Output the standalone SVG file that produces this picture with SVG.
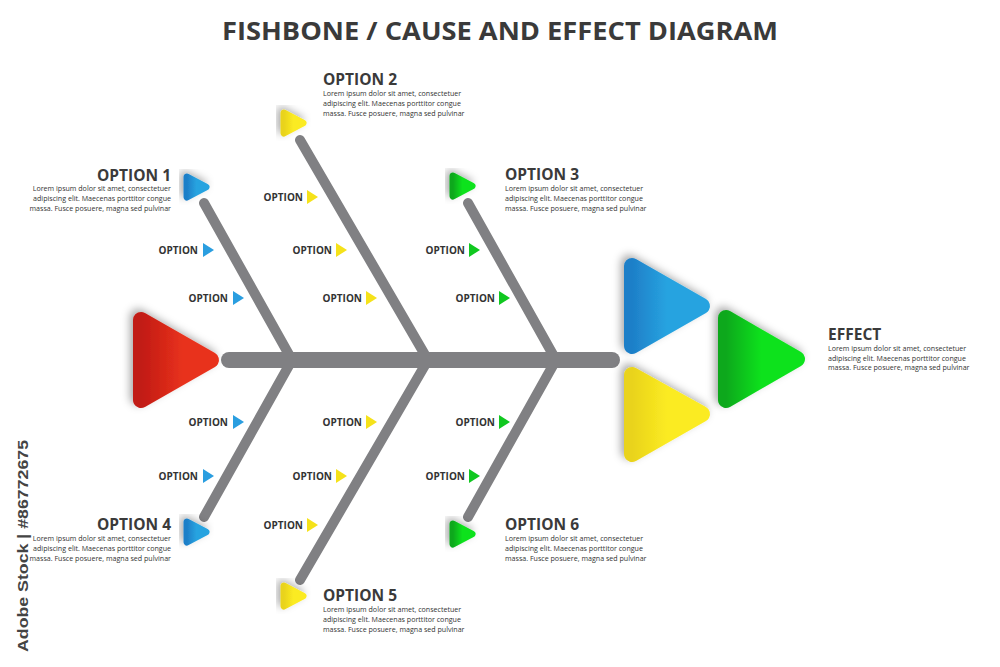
<svg xmlns="http://www.w3.org/2000/svg" width="1000" height="667" viewBox="0 0 1000 667">
<style>
.t{font-family:"Open Sans","Liberation Sans",sans-serif;font-weight:bold;fill:#3a3a3a}
.h{font-size:15.5px}
.l{font-family:"Open Sans","Liberation Sans",sans-serif;font-size:7.1px;fill:#333}
.o{font-family:"Open Sans","Liberation Sans",sans-serif;font-weight:bold;font-size:10px;fill:#333}
.r{text-anchor:end}
.bone{stroke:#808083;stroke-linecap:round;fill:none}
.tri{stroke-linejoin:round;filter:url(#sh)}
.blue{fill:url(#gb);stroke:url(#gb)}
.yel{fill:url(#gy);stroke:url(#gy)}
.grn{fill:url(#gg);stroke:url(#gg)}
.red{fill:url(#gr);stroke:url(#gr)}
.mb{fill:#2a9ee0}.my{fill:#f5e21a}.mg{fill:#10c820}
</style>
<defs>
<filter id="sh" x="-40%" y="-40%" width="180%" height="180%"><feDropShadow dx="-3" dy="-3" stdDeviation="4" flood-color="#000" flood-opacity="0.35"/></filter>
<linearGradient id="gb" x1="0" x2="1"><stop offset="0" stop-color="#1e7fc8"/><stop offset="0.5" stop-color="#27a3e0"/></linearGradient>
<linearGradient id="gy" x1="0" x2="1"><stop offset="0" stop-color="#e9d31a"/><stop offset="0.5" stop-color="#fbeb22"/></linearGradient>
<linearGradient id="gg" x1="0" x2="1"><stop offset="0" stop-color="#0aa81a"/><stop offset="0.5" stop-color="#0be21c"/></linearGradient>
<linearGradient id="gr" x1="0" x2="1"><stop offset="0" stop-color="#c11a14"/><stop offset="0.6" stop-color="#e8321c"/></linearGradient>
</defs>
<rect width="1000" height="667" fill="#fff"/>
<text x="500" y="40" class="t" font-size="25" text-anchor="middle" textLength="556" lengthAdjust="spacingAndGlyphs">FISHBONE / CAUSE AND EFFECT DIAGRAM</text>
<g id="connectors">
<line class="bone" x1="229" y1="360" x2="612" y2="360" stroke-width="16"/>
<line class="bone" x1="204" y1="203" x2="292" y2="360" stroke-width="10"/>
<line class="bone" x1="300" y1="140" x2="428" y2="360" stroke-width="10"/>
<line class="bone" x1="468" y1="203" x2="556" y2="360" stroke-width="10"/>
<line class="bone" x1="292" y1="360" x2="204" y2="517" stroke-width="10"/>
<line class="bone" x1="428" y1="360" x2="300" y2="580" stroke-width="10"/>
<line class="bone" x1="556" y1="360" x2="468" y2="517" stroke-width="10"/>
</g>
<g id="tail"><polygon class="tri red" stroke-width="16" points="141,320 211,360 141,400"/></g>
<g id="head">
<polygon class="tri blue" stroke-width="16" points="632,266 702,306 632,346"/>
<polygon class="tri yel" stroke-width="16" points="632,375 702,414 632,454"/>
<polygon class="tri grn" stroke-width="16" points="726,318 797,359 726,400"/>
<text x="828" y="340" class="t h">EFFECT</text>
<text class="l"><tspan x="828" y="351">Lorem ipsum dolor sit amet, consectetuer</tspan><tspan x="828" y="360.5">adipiscing elit. Maecenas porttitor congue</tspan><tspan x="828" y="370">massa. Fusce posuere, magna sed pulvinar</tspan></text>
</g>
<g id="option1">
<polygon class="tri blue" stroke-width="7" points="187,177 206,187 187,197"/>
<text x="171" y="181" class="t h r">OPTION 1</text>
<text class="l r"><tspan x="171" y="191">Lorem ipsum dolor sit amet, consectetuer</tspan><tspan x="171" y="201">adipiscing elit. Maecenas porttitor congue</tspan><tspan x="171" y="211">massa. Fusce posuere, magna sed pulvinar</tspan></text>
</g>
<g id="option2">
<polygon class="tri yel" stroke-width="7" points="284,113 303,123 284,133"/>
<text x="323" y="85" class="t h">OPTION 2</text>
<text class="l"><tspan x="323" y="96">Lorem ipsum dolor sit amet, consectetuer</tspan><tspan x="323" y="106">adipiscing elit. Maecenas porttitor congue</tspan><tspan x="323" y="115.5">massa. Fusce posuere, magna sed pulvinar</tspan></text>
</g>
<g id="option3">
<polygon class="tri grn" stroke-width="7" points="453,176 472,186 453,196"/>
<text x="505" y="180" class="t h">OPTION 3</text>
<text class="l"><tspan x="505" y="191">Lorem ipsum dolor sit amet, consectetuer</tspan><tspan x="505" y="201">adipiscing elit. Maecenas porttitor congue</tspan><tspan x="505" y="211">massa. Fusce posuere, magna sed pulvinar</tspan></text>
</g>
<g id="option4">
<polygon class="tri blue" stroke-width="7" points="187,522 206,532 187,542"/>
<text x="171" y="530" class="t h r">OPTION 4</text>
<text class="l r"><tspan x="171" y="541">Lorem ipsum dolor sit amet, consectetuer</tspan><tspan x="171" y="551">adipiscing elit. Maecenas porttitor congue</tspan><tspan x="171" y="560.5">massa. Fusce posuere, magna sed pulvinar</tspan></text>
</g>
<g id="option5">
<polygon class="tri yel" stroke-width="7" points="284,586 303,596 284,606"/>
<text x="323" y="601" class="t h">OPTION 5</text>
<text class="l"><tspan x="323" y="612">Lorem ipsum dolor sit amet, consectetuer</tspan><tspan x="323" y="622">adipiscing elit. Maecenas porttitor congue</tspan><tspan x="323" y="631.5">massa. Fusce posuere, magna sed pulvinar</tspan></text>
</g>
<g id="option6">
<polygon class="tri grn" stroke-width="7" points="453,524 472,534 453,544"/>
<text x="505" y="530" class="t h">OPTION 6</text>
<text class="l"><tspan x="505" y="541">Lorem ipsum dolor sit amet, consectetuer</tspan><tspan x="505" y="551">adipiscing elit. Maecenas porttitor congue</tspan><tspan x="505" y="560.5">massa. Fusce posuere, magna sed pulvinar</tspan></text>
</g>
<g id="suboptions">
<text x="198" y="254" class="o r">OPTION</text><polygon class="mb" points="203,243 214,250 203,257"/>
<text x="228" y="302" class="o r">OPTION</text><polygon class="mb" points="233,291 244,298 233,305"/>
<text x="228" y="426" class="o r">OPTION</text><polygon class="mb" points="233,415 244,422 233,429"/>
<text x="198" y="480" class="o r">OPTION</text><polygon class="mb" points="203,469 214,476 203,483"/>
<text x="303" y="201" class="o r">OPTION</text><polygon class="my" points="307,190 318,197 307,204"/>
<text x="332" y="254" class="o r">OPTION</text><polygon class="my" points="336,243 347,250 336,257"/>
<text x="362" y="302" class="o r">OPTION</text><polygon class="my" points="366,291 377,298 366,305"/>
<text x="362" y="426" class="o r">OPTION</text><polygon class="my" points="366,415 377,422 366,429"/>
<text x="332" y="480" class="o r">OPTION</text><polygon class="my" points="336,469 347,476 336,483"/>
<text x="303" y="529" class="o r">OPTION</text><polygon class="my" points="307,518 318,525 307,532"/>
<text x="465" y="254" class="o r">OPTION</text><polygon class="mg" points="469,243 480,250 469,257"/>
<text x="495" y="302" class="o r">OPTION</text><polygon class="mg" points="499,291 510,298 499,305"/>
<text x="495" y="426" class="o r">OPTION</text><polygon class="mg" points="499,415 510,422 499,429"/>
<text x="465" y="480" class="o r">OPTION</text><polygon class="mg" points="469,469 480,476 469,483"/>
</g>
<text transform="translate(28,652) rotate(-90)" font-family="'Liberation Sans',sans-serif" font-size="15" font-weight="bold" fill="#444" textLength="212" lengthAdjust="spacingAndGlyphs">Adobe Stock | #86772675</text>
</svg>
